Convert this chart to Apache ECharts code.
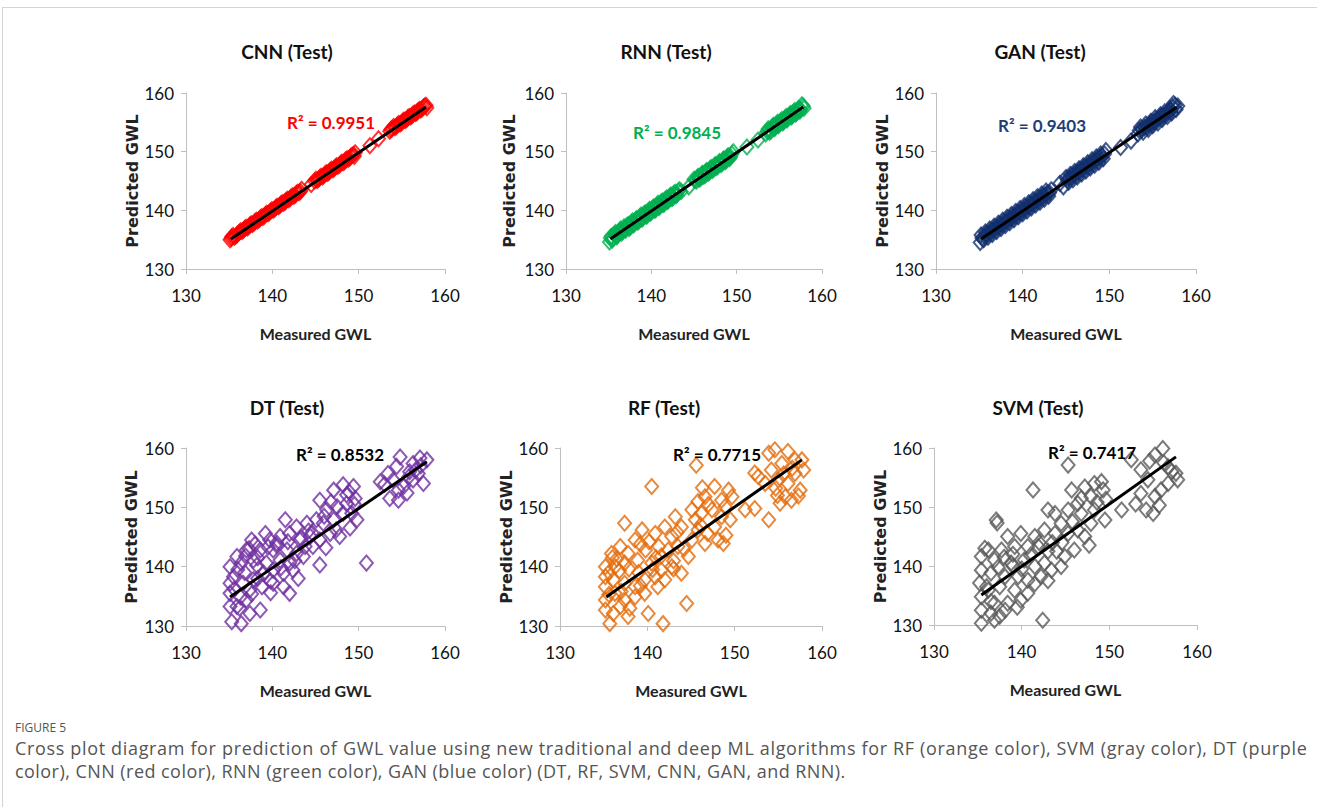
<!DOCTYPE html>
<html><head><meta charset="utf-8">
<script src="https://cdn.jsdelivr.net/npm/echarts@6/dist/echarts.min.js"></script>
<style>
html,body{margin:0;padding:0;background:#fff;overflow:hidden;}
#frame{position:absolute;left:2px;top:7px;width:1320px;height:810px;border-top:1px solid #d4d4d4;border-left:1px solid #d4d4d4;}
#chart{position:absolute;left:0;top:0;width:1317px;height:712px;}
#cap{position:absolute;left:15px;top:719px;font-family:'Open Sans',sans-serif;color:#555;}
#cap .fig{font-size:12px;line-height:18px;color:#555;}
#cap .txt{font-size:18px;line-height:23px;color:#555;letter-spacing:0.45px;white-space:nowrap;}
#cap .l1{letter-spacing:0.66px;}
</style></head><body>
<div id="frame"></div>
<div id="chart"></div>
<div id="cap"><div class="fig">FIGURE 5</div><div class="txt"><span class="l1">Cross plot diagram for prediction of GWL value using new traditional and deep ML algorithms for RF (orange color), SVM (gray color), DT (purple</span><br>color), CNN (red color), RNN (green color), GAN (blue color) (DT, RF, SVM, CNN, GAN, and RNN).</div></div>
<script>
// ---------------- DATA ----------------
const panelNames = ['CNN (Test)', 'RNN (Test)', 'GAN (Test)', 'DT (Test)', 'RF (Test)', 'SVM (Test)'];
const r2Labels = ['R² = 0.9951', 'R² = 0.9845', 'R² = 0.9403', 'R² = 0.8532', 'R² = 0.7715', 'R² = 0.7417'];
const xTicks = [130, 140, 150, 160];
const yTicks = [130, 140, 150, 160];

const cnnPoints = [[135.1,135.0],[135.3,135.5],[135.6,135.4],[135.9,135.8],[136.2,136.3],[136.5,136.4],[136.8,136.9],[137.1,137.0],[137.4,137.5],[137.7,137.6],[138.0,138.1],[138.3,138.2],[138.6,138.7],[138.9,138.8],[139.2,139.3],[139.5,139.4],[139.8,139.9],[140.1,140.0],[140.4,140.5],[140.7,140.6],[141.0,141.1],[141.3,141.2],[141.6,141.7],[141.9,141.8],[142.2,142.3],[142.5,142.4],[142.8,142.9],[143.1,143.0],[143.4,143.6],[144.5,144.4],[144.9,145.0],[145.2,145.1],[145.5,145.6],[145.8,145.7],[146.1,146.2],[146.4,146.3],[146.7,146.8],[147.0,146.9],[147.3,147.4],[147.6,147.5],[147.9,148.0],[148.2,148.1],[148.5,148.6],[148.8,148.7],[149.1,149.2],[149.4,149.5],[149.6,149.8],[151.3,151.0],[152.3,152.2],[153.6,153.5],[153.9,154.0],[154.2,154.1],[154.5,154.6],[154.8,154.7],[155.1,155.2],[155.4,155.3],[155.7,155.8],[156.0,155.9],[156.3,156.4],[156.6,156.5],[156.9,157.0],[157.2,157.1],[157.5,157.6],[157.8,157.9]];
const cnnExtra = [[135.25,135.2],[135.45,135.7],[135.75,135.6],[136.05,136.1],[136.35,136.5],[136.65,136.6],[136.95,137.1],[137.25,137.2],[137.55,137.7],[137.85,137.8],[138.15,138.3],[138.45,138.4],[138.75,138.9],[139.05,139.0],[139.35,139.5],[139.65,139.6],[139.95,140.1],[140.25,140.2],[140.55,140.7],[140.85,140.8],[141.15,141.3],[141.45,141.4],[141.75,141.9],[142.05,142.0],[142.35,142.5],[142.65,142.6],[142.95,143.1],[143.25,143.2],[145.05,145.3],[145.35,145.3],[145.65,145.8],[145.95,145.9],[146.25,146.4],[146.55,146.5],[146.85,147.0],[147.15,147.1],[147.45,147.6],[147.75,147.7],[148.05,148.2],[148.35,148.3],[148.65,148.8],[148.95,148.9],[149.25,149.4],[149.5,149.2],[153.75,153.8],[154.05,154.3],[154.35,154.3],[154.65,154.8],[154.95,154.9],[155.25,155.4],[155.55,155.5],[155.85,156.0],[156.15,156.1],[156.45,156.6],[156.75,156.7],[157.05,157.2],[157.35,157.3],[157.65,157.8],[157.9,157.5]];

const rnnPoints = [[135.1,134.6],[135.3,135.6],[135.5,135.2],[135.8,136.2],[136.0,135.6],[136.3,136.5],[136.5,136.1],[136.8,137.2],[137.0,136.6],[137.3,137.6],[137.5,137.1],[137.8,138.2],[138.0,137.7],[138.3,138.6],[138.5,138.1],[138.8,139.2],[139.0,138.7],[139.3,139.6],[139.5,139.1],[139.8,140.2],[140.0,139.7],[140.3,140.6],[140.5,140.1],[140.8,141.2],[141.0,140.7],[141.3,141.6],[141.5,141.1],[141.8,142.1],[142.0,141.7],[142.3,142.6],[142.5,142.1],[142.8,143.1],[143.0,142.7],[143.3,143.5],[143.5,143.2],[144.4,144.0],[145.0,145.3],[145.3,145.0],[145.5,145.8],[145.8,145.5],[146.0,146.3],[146.3,146.0],[146.5,146.8],[146.8,146.5],[147.0,147.3],[147.3,147.0],[147.5,147.8],[147.8,147.5],[148.0,148.3],[148.3,148.0],[148.5,148.8],[148.8,148.5],[149.0,149.3],[149.3,149.1],[149.6,150.0],[151.2,150.8],[152.5,152.0],[153.4,153.0],[153.7,153.9],[154.0,153.5],[154.3,154.5],[154.5,154.1],[154.8,155.0],[155.0,154.7],[155.3,155.5],[155.5,155.1],[155.8,156.0],[156.0,155.7],[156.3,156.5],[156.5,156.1],[156.8,157.0],[157.0,156.6],[157.3,157.4],[157.5,157.2],[157.8,157.8]];
const rnnExtra = [[135.2,135.3],[135.4,134.9],[135.65,135.9],[135.9,135.5],[136.15,136.3],[136.4,136.8],[136.65,136.4],[136.9,136.9],[137.15,137.4],[137.4,136.9],[137.65,137.9],[137.9,137.5],[138.15,138.4],[138.4,138.0],[138.65,138.9],[138.9,138.5],[139.15,139.4],[139.4,139.0],[139.65,139.9],[139.9,139.5],[140.15,140.4],[140.4,140.0],[140.65,140.9],[140.9,140.5],[141.15,141.4],[141.4,141.0],[141.65,141.9],[141.9,141.5],[142.15,142.4],[142.4,142.0],[142.65,142.9],[142.9,142.5],[143.15,143.3],[145.15,145.1],[145.4,145.6],[145.65,145.3],[145.9,146.1],[146.15,145.8],[146.4,146.6],[146.65,146.3],[146.9,147.1],[147.15,146.8],[147.4,147.6],[147.65,147.3],[147.9,148.1],[148.15,147.8],[148.4,148.6],[148.65,148.3],[148.9,149.1],[149.15,148.8],[149.45,149.6],[153.55,153.5],[153.85,153.3],[154.15,154.2],[154.4,153.9],[154.65,154.7],[154.9,154.4],[155.15,155.2],[155.4,154.9],[155.65,155.7],[155.9,155.4],[156.15,156.2],[156.4,155.9],[156.65,156.7],[156.9,156.4],[157.15,157.2],[157.4,156.9],[157.65,158.0],[157.9,157.4]];

const ganPoints = [[135.1,134.5],[135.2,135.8],[135.5,135.0],[135.7,136.3],[136.0,135.4],[136.2,136.8],[136.5,135.9],[136.7,137.3],[137.0,136.4],[137.2,137.8],[137.5,136.9],[137.7,138.3],[138.0,137.4],[138.2,138.8],[138.5,137.9],[138.7,139.3],[139.0,138.4],[139.2,139.8],[139.5,138.9],[139.7,140.3],[140.0,139.4],[140.2,140.8],[140.5,139.9],[140.7,141.3],[141.0,140.4],[141.2,141.8],[141.5,140.9],[141.7,142.3],[142.0,141.4],[142.2,142.8],[142.5,141.9],[142.7,143.3],[143.0,142.4],[143.3,143.5],[144.3,144.6],[144.7,144.0],[145.0,145.6],[145.3,144.8],[145.5,146.1],[145.8,145.2],[146.0,146.6],[146.3,145.7],[146.5,147.1],[146.8,146.2],[147.0,147.6],[147.3,146.7],[147.5,148.1],[147.8,147.2],[148.0,148.6],[148.3,147.7],[148.5,149.1],[148.8,148.2],[149.0,149.6],[149.3,148.8],[149.6,150.2],[151.3,150.7],[152.5,151.8],[153.3,153.0],[153.6,154.2],[153.9,153.3],[154.2,154.7],[154.5,153.8],[154.8,155.2],[155.0,154.4],[155.3,155.8],[155.6,154.9],[155.9,156.3],[156.1,155.5],[156.4,156.8],[156.7,156.0],[157.0,157.3],[157.2,156.6],[157.4,158.2],[157.7,157.2],[157.9,157.8]];
const ganExtra = [[135.3,135.3],[135.6,135.6],[135.85,135.9],[136.1,136.1],[136.35,136.4],[136.6,136.6],[136.85,136.9],[137.1,137.1],[137.35,137.4],[137.6,137.6],[137.85,137.9],[138.1,138.1],[138.35,138.4],[138.6,138.6],[138.85,138.9],[139.1,139.1],[139.35,139.4],[139.6,139.6],[139.85,139.9],[140.1,140.1],[140.35,140.4],[140.6,140.6],[140.85,140.9],[141.1,141.1],[141.35,141.4],[141.6,141.6],[141.85,141.9],[142.1,142.1],[142.35,142.4],[142.6,142.6],[142.85,142.9],[143.1,143.0],[145.15,145.2],[145.4,145.5],[145.65,145.7],[145.9,146.0],[146.15,146.2],[146.4,146.5],[146.65,146.7],[146.9,147.0],[147.15,147.2],[147.4,147.5],[147.65,147.7],[147.9,148.0],[148.15,148.2],[148.4,148.5],[148.65,148.7],[148.9,149.0],[149.15,149.2],[149.45,149.6],[153.45,153.6],[153.75,153.8],[154.05,154.1],[154.35,154.3],[154.65,154.6],[154.9,154.9],[155.15,155.1],[155.45,155.4],[155.75,155.7],[156.0,156.0],[156.25,156.2],[156.55,156.5],[156.85,156.8],[157.1,157.0],[157.3,157.6],[157.6,157.9]];

const dtPoints = [[154.8,158.5],[157.1,158.3],[156.3,157.4],[153.4,155.7],[152.5,154.3],[154.0,154.6],[154.6,152.9],[153.6,151.5],[154.6,151.2],[155.6,152.4],[156.3,154.6],[157.5,154.0],[155.9,156.0],[156.9,155.7],[157.9,158.0],[154.4,156.9],
[145.5,151.2],[147.1,152.9],[148.2,153.8],[149.4,153.5],[149.6,151.5],[148.6,152.1],[147.5,150.1],[146.3,149.6],[145.1,147.9],[145.9,147.3],[147.1,147.9],[148.2,149.0],[149.2,149.0],[149.8,147.9],[149.0,146.5],[147.8,145.1],[146.7,145.6],[145.5,144.5],[144.7,143.4],[145.5,140.3],[144.0,147.3],[144.4,145.1],[150.9,140.6],[143.6,141.7],[144.6,145.7],[146.2,143.2],[148.6,150.6],
[141.5,147.9],[142.8,146.7],[142.0,145.6],[143.2,144.5],[140.9,145.1],[139.7,144.5],[137.6,144.5],[138.6,142.8],[140.1,142.8],[141.7,142.8],[142.8,142.2],[143.8,143.4],[139.2,145.6],[137.0,142.8],[135.9,141.7],[135.1,140.0],[136.4,140.6],[137.8,141.1],[139.3,140.6],[140.9,141.1],[142.0,140.6],[142.4,139.4],[141.3,138.9],[140.1,139.4],[139.0,138.9],[137.8,137.8],[136.6,137.2],[135.5,138.3],[135.1,137.2],[135.1,135.5],[136.3,134.9],[137.4,136.1],[138.8,136.6],[140.1,137.2],[142.0,135.5],[141.3,136.6],[135.9,133.3],[137.4,132.1],[138.6,132.7],[135.3,130.7],[136.4,130.4],[135.1,133.3],[137.0,134.4],[143.0,138.0],[138.2,140.2],[136.8,139.0],[139.8,135.6],[138.0,143.8],[140.5,143.6]];
const dtExtra = [[135.6,136.2],[136.0,139.5],[136.9,141.8],[137.3,143.0],[138.3,141.5],[139.5,143.3],[140.5,144.0],[141.8,144.2],[139.8,137.6],[138.3,138.0],[136.2,133.0],[137.6,135.4],[141.0,139.8],[142.6,141.0],[143.3,144.8],[144.2,146.0],[146.0,148.5],[147.4,146.2],[148.9,152.6],[146.8,150.9],[149.5,150.5],[155.2,153.5],[156.6,156.3],[153.0,153.9],[155.8,155.1],[157.2,157.0]];

const rfPoints = [[153.9,159.1],[154.6,159.7],[156.1,159.4],[156.9,158.0],[157.7,158.0],[155.4,157.4],[154.2,156.3],[152.7,155.2],[153.5,154.0],[155.0,154.6],[156.1,154.0],[157.5,152.9],[155.8,151.8],[155.2,150.7],[156.5,151.2],[153.9,147.9],[152.3,149.8],[151.2,149.6],[156.9,155.7],[157.9,156.3],[145.6,157.1],[140.5,153.5],
[147.7,153.5],[149.3,152.9],[149.7,151.8],[148.5,151.2],[146.6,151.8],[145.8,151.0],[145.1,149.6],[146.2,149.0],[147.4,149.6],[148.5,148.4],[149.5,147.9],[147.7,146.7],[146.9,145.6],[145.8,146.2],[145.1,144.5],[146.6,143.9],[148.1,144.5],[148.7,143.9],[144.7,141.7],[144.5,133.8],[143.9,146.7],[143.2,148.4],[145.5,147.9],
[137.4,147.3],[139.4,146.2],[140.9,145.6],[142.0,146.7],[142.8,145.1],[138.6,144.5],[136.9,143.4],[135.9,142.2],[137.8,142.2],[139.8,142.8],[141.3,143.4],[142.4,142.8],[143.5,143.4],[135.2,140.0],[136.3,140.0],[137.4,140.6],[138.9,141.1],[140.5,140.6],[141.6,139.4],[142.8,140.0],[143.9,138.9],[135.2,138.3],[136.1,137.8],[137.4,137.2],[138.6,136.6],[139.7,137.8],[140.9,138.3],[142.0,137.8],[135.2,136.6],[136.3,135.5],[137.4,134.4],[138.6,134.9],[139.7,135.5],[141.2,136.6],[135.2,134.4],[135.2,132.7],[136.1,132.1],[136.9,133.3],[137.8,131.6],[135.7,130.4],[140.1,132.1],[141.8,130.4],[136.5,141.3],[139.0,139.0],[141.0,141.5],[143.0,141.0]];
const rfExtra = [[135.6,139.0],[136.0,141.5],[136.8,139.3],[137.9,139.6],[139.2,143.8],[140.2,144.2],[141.6,141.8],[143.4,145.8],[144.2,143.0],[146.1,147.0],[147.0,150.5],[148.9,150.1],[149.0,145.3],[137.0,135.8],[138.0,133.0],[139.2,136.8],[135.6,135.3],[140.6,139.5],[143.0,139.6],[154.7,153.2],[155.6,155.6],[156.6,156.6],[157.3,151.9],[154.9,152.0],[152.3,155.8],[146.3,153.3]];

const svmPoints = [[156.1,159.9],[155.2,158.8],[152.5,158.0],[153.6,156.3],[154.4,154.6],[156.7,156.8],[157.6,155.7],[157.8,154.6],[155.9,152.9],[155.2,151.8],[153.6,152.3],[154.2,149.5],[155.0,148.9],[156.7,154.0],[151.4,149.5],[145.3,157.1],[141.3,152.9],[137.1,147.8],[137.2,147.3],
[145.7,152.9],[147.2,153.4],[148.3,154.0],[149.1,154.3],[149.3,152.9],[147.9,151.8],[146.4,150.6],[145.3,149.5],[146.8,148.9],[148.3,149.5],[149.5,147.8],[147.9,147.2],[146.4,146.1],[145.3,145.5],[144.5,147.2],[143.8,148.9],[143.0,149.5],[147.2,145.0],[146.0,142.7],[144.9,141.6],[142.6,140.5],[142.4,130.8],
[138.4,145.0],[139.9,145.5],[141.5,145.0],[142.6,146.1],[141.9,143.3],[140.7,143.3],[139.2,143.3],[137.7,142.7],[136.2,142.7],[135.4,141.6],[136.9,141.0],[138.8,140.5],[140.3,141.0],[141.5,139.9],[143.4,139.3],[144.5,139.9],[135.4,139.3],[136.5,138.8],[138.1,138.2],[139.6,138.2],[140.7,137.6],[142.2,138.2],[135.2,137.1],[136.2,135.9],[137.5,136.5],[139.2,135.9],[140.7,135.4],[135.4,134.8],[136.9,133.7],[138.4,133.7],[139.9,134.2],[135.4,132.5],[136.5,132.0],[138.1,132.5],[135.4,130.3],[136.9,130.8],[143.5,144.0],[144.0,142.5],[139.0,140.0]];
const svmExtra = [[135.8,143.0],[136.0,136.5],[137.3,139.8],[138.0,141.5],[139.0,142.0],[140.0,139.5],[141.0,141.8],[142.0,144.0],[143.0,142.5],[143.8,145.5],[144.6,144.0],[145.8,147.5],[146.8,151.5],[148.6,150.8],[149.6,151.3],[147.7,143.5],[136.5,134.0],[137.5,131.5],[141.5,137.0],[143.0,137.5],[139.5,133.0],[154.6,157.8],[156.2,157.5],[157.1,156.0],[153.0,150.5],[155.7,150.3]];

const trendLines = [
  [[135.2,135.1],[157.8,157.6]],
  [[135.2,135.1],[157.8,157.6]],
  [[135.2,135.1],[157.8,157.6]],
  [[135.1,134.9],[157.9,157.7]],
  [[135.3,134.9],[157.7,158.0]],
  [[135.4,135.1],[157.6,158.5]]
];
const allPoints = [cnnPoints.concat(cnnExtra), rnnPoints.concat(rnnExtra), ganPoints.concat(ganExtra),
                   dtPoints.concat(dtExtra), rfPoints.concat(rfExtra), svmPoints.concat(svmExtra)];

// ---------------- LAYOUT / STYLE ----------------
const colors = ['#ff0000', '#00b050', '#12306e', '#7030a0', '#e46c0a', '#595959'];
const r2Colors = ['#ff0000', '#00b050', '#1f3d7a', '#000000', '#000000', '#000000'];
const grids = [
  {left:186, top:93, width:259, height:176},
  {left:566, top:93, width:256, height:176},
  {left:936, top:93, width:260, height:176},
  {left:186, top:448, width:259, height:178},
  {left:560, top:448, width:262, height:178},
  {left:934, top:448, width:263, height:177}
];
const titlePos = [[287,42],[666,42],[1040,42],[287,398],[664,398],[1038,398]];
const r2Pos = [[287,114],[633,124],[998,117],[296,446],[673,446],[1048,444]];
const yNameGap = [46, 49, 46, 47, 45, 45];

const font = 'Lato, "Open Sans", sans-serif';
const chart = echarts.init(document.getElementById('chart'), null, {renderer:'svg'});
const option = {
  backgroundColor: 'transparent',
  animation: false,
  title: [],
  grid: grids.map(g => Object.assign({containLabel:false}, g)),
  xAxis: [], yAxis: [], series: []
};
for (let i = 0; i < 6; i++) {
  option.title.push({text: panelNames[i], left: titlePos[i][0], top: titlePos[i][1], textAlign: 'center', padding: 0,
    textStyle: {fontFamily: font, fontWeight: 'bold', fontSize: 19, color: '#111'}});
  option.title.push({text: r2Labels[i], left: r2Pos[i][0], top: r2Pos[i][1], padding: 0,
    textStyle: {fontFamily: font, fontWeight: 'bold', fontSize: 17, color: r2Colors[i]}});
  option.xAxis.push({gridIndex: i, type: 'value', min: xTicks[0], max: xTicks[xTicks.length-1], interval: xTicks[1]-xTicks[0],
    name: 'Measured GWL', nameLocation: 'middle', nameGap: 56,
    nameTextStyle: {fontFamily: font, fontWeight: 'bold', fontSize: 16, color: '#222'},
    axisLine: {show: true, lineStyle: {color: '#bfbfbf', width: 1}},
    axisTick: {show: true, length: 5, lineStyle: {color: '#bfbfbf'}},
    axisLabel: {margin: 18, fontFamily: font, fontSize: 17, color: '#111'},
    splitLine: {show: false}});
  option.yAxis.push({gridIndex: i, type: 'value', min: yTicks[0], max: yTicks[yTicks.length-1], interval: yTicks[1]-yTicks[0],
    name: 'Predicted GWL', nameLocation: 'middle', nameGap: yNameGap[i],
    nameTextStyle: {fontFamily: '"DejaVu Sans", Verdana, sans-serif', fontWeight: 'bold', fontSize: 16, color: '#222'},
    axisLine: {show: true, lineStyle: {color: '#bfbfbf', width: 1}},
    axisTick: {show: true, length: 5, lineStyle: {color: '#bfbfbf'}},
    axisLabel: {margin: 12, fontFamily: font, fontSize: 17, color: '#111'},
    splitLine: {show: false}});
  option.series.push({type: 'scatter', xAxisIndex: i, yAxisIndex: i, data: allPoints[i],
    symbol: 'diamond', symbolSize: [13, 15],
    itemStyle: {color: 'rgba(255,255,255,0)', borderColor: colors[i], borderWidth: 2}, z: 2});
  option.series.push({type: 'line', xAxisIndex: i, yAxisIndex: i, data: trendLines[i],
    showSymbol: false, symbol: 'none', lineStyle: {color: '#000', width: 3}, z: 3, silent: true});
}
chart.setOption(option);
</script>
</body></html>
